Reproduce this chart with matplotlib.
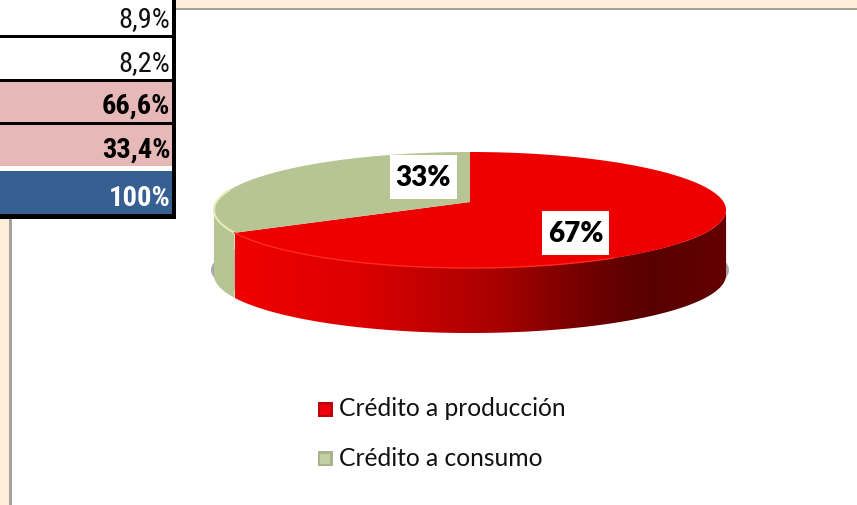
import numpy as np
import matplotlib
matplotlib.use("Agg")
import matplotlib.pyplot as plt
from matplotlib.patches import Polygon, Rectangle, Ellipse

plt.rcParams['font.family'] = ['Lato', 'DejaVu Sans']

# data
table_vals = ["8,9%", "8,2%", "66,6%", "33,4%", "100%"]
categories = ["Crédito a producción", "Crédito a consumo"]
shares = [66.6, 33.4]
pie_labels = ["67%", "33%"]

W, H = 857, 505
fig = plt.figure(figsize=(W / 100, H / 100), dpi=100)
ax = fig.add_axes([0, 0, 1, 1])
ax.set_xlim(0, W)
ax.set_ylim(H, 0)
ax.axis("off")

# frame behind the chart
PEACH = "#fdeeda"
LINE = "#a5a29a"
ax.add_patch(Rectangle((0, 0), W, H, fc="white", ec="none", zorder=0))
ax.add_patch(Rectangle((175, 0), W - 175, 8, fc=PEACH, ec="none", zorder=1))
ax.add_patch(Rectangle((175, 8), W - 175, 2, fc=LINE, ec="none", zorder=1))
ax.add_patch(Rectangle((0, 218), 9, H - 218, fc=PEACH, ec="none", zorder=1))
ax.add_patch(Rectangle((9, 218), 3, H - 218, fc=LINE, ec="none", zorder=1))

# table rows: top, bottom, fill, text colour, weight
rows = [(0, 35, "white", "#111111", "normal"),
        (38, 79, "white", "#111111", "normal"),
        (82, 122, "#e6b8b7", "black", "bold"),
        (125, 166, "#e6b8b7", "black", "bold"),
        (171, 214, "#366092", "white", "bold")]
ax.add_patch(Rectangle((0, 0), 176, 219, fc="black", ec="none", zorder=2))
ax.add_patch(Rectangle((0, 166), 172, 5, fc="white", ec="none", zorder=3))
for (y0, y1, fill, col, weight), val in zip(rows, table_vals):
    ax.add_patch(Rectangle((0, y0), 172, y1 - y0, fc=fill, ec="none", zorder=3))
    ax.text(170.5, y1 - 8, val, ha="right", va="baseline", color=col,
            fontsize=20.5, fontweight=weight, family=['Roboto Condensed', 'Lato'], zorder=4)

# pie geometry, perspective disc seen from above
CX, CY = 470, 202
A, B, P = 253.6, 56.9, 0.138
DEPTH = 65
# angles where the disc is widest on screen, the wall stops there
RIGHT_EDGE, LEFT_EDGE = 97.9, 262.1


def disc(theta):
    # theta in degrees clockwise from 12 o'clock
    t = np.radians(theta)
    u, v = np.sin(t), -np.cos(t)
    return CX + A * u / (1 - P * v), CY + B * v / (1 - P * v)


# shadow under the pie
ax.add_patch(Ellipse((470, 270), 518, 100, fc="#a8a8b0", ec="none", zorder=5))

# slices, starting at the top going clockwise
starts = np.cumsum([0] + shares[:-1]) * 3.6
ends = np.cumsum(shares) * 3.6
tops = ["#ee0000", "#b7c594"]
split = ends[0]

# side wall, gradient runs left to right across the front
xa, ya = disc(np.linspace(RIGHT_EDGE, LEFT_EDGE, 240))
wall = np.r_[np.c_[xa, ya], np.c_[xa[::-1], ya[::-1] + DEPTH]]
grad = np.linspace(0, 1, 256).reshape(1, -1)
cmap = matplotlib.colors.LinearSegmentedColormap.from_list(
    "side", [(0, "#f00000"), (0.25, "#dc0000"), (0.54, "#a60000"),
             (0.75, "#680000"), (0.85, "#580000"), (1, "#640000")])
im = ax.imshow(grad, extent=(235, 727, H, 0), aspect="auto", cmap=cmap, zorder=6)
ax.set_xlim(0, W)
ax.set_ylim(H, 0)
im.set_clip_path(Polygon(wall, closed=True, transform=ax.transData))

# green part of the wall
xg, yg = disc(np.linspace(split, LEFT_EDGE, 60))
ax.add_patch(Polygon(np.r_[np.c_[xg, yg], np.c_[xg[::-1], yg[::-1] + DEPTH]],
                     closed=True, fc=tops[1], ec="none", zorder=7))

# top faces
for s, e, c in zip(starts, ends, tops):
    xs, ys = disc(np.linspace(s, e, 200))
    ax.add_patch(Polygon(np.r_[[[CX, CY]], np.c_[xs, ys]], closed=True, fc=c, ec="none", zorder=8))

# light rim on the front edge
xr, yr = disc(np.linspace(split, 282, 30))
ax.plot(xr, yr, color="#e4eeb8", lw=1.5, zorder=9)
xr, yr = disc(np.linspace(150, split, 60))
ax.plot(xr, yr, color="#ff2a1a", lw=1.0, zorder=9)

# value labels on white boxes
for txt, (x0, x1, y0, y1) in zip(pie_labels, [(542, 609, 211, 255), (390, 457, 155, 199)]):
    ax.add_patch(Rectangle((x0, y0), x1 - x0, y1 - y0, fc="white", ec="none", zorder=10))
    ax.text((x0 + x1) / 2, (y0 + y1) / 2 + 1, txt, ha="center", va="center", fontsize=20,
            fontweight="heavy", color="black", zorder=11)

# legend
swatches = [("#c00008", "#f0000c"), ("#a9b48c", "#c3cfa3")]
for cat, y, (c_out, c_in) in zip(categories, [409.5, 458.5], swatches):
    ax.add_patch(Rectangle((318, y - 7.5), 15, 15, fc=c_out, ec="none", zorder=10))
    ax.add_patch(Rectangle((320.5, y - 5), 10, 10, fc=c_in, ec="none", zorder=11))
    ax.text(339, y - 0.5, cat, ha="left", va="center", fontsize=17.7, color="#111111", zorder=10)

fig.savefig("out.png", dpi=100)
